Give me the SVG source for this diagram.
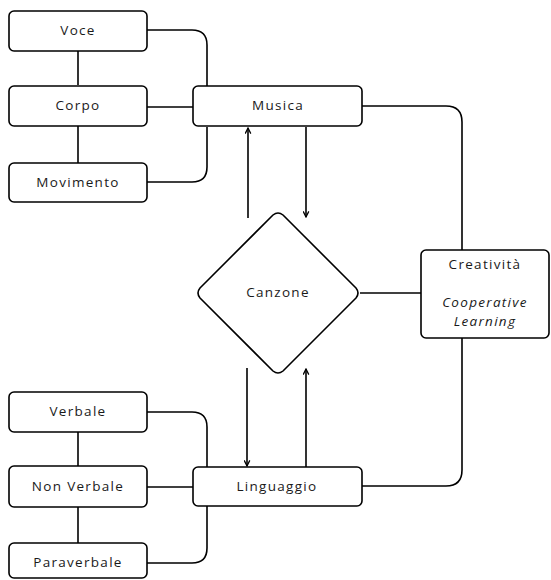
<svg xmlns="http://www.w3.org/2000/svg" width="551" height="580" viewBox="0 0 551 580">
<style>
.box{fill:#fff;stroke:#000;stroke-width:1.6}
.ln{fill:none;stroke:#000;stroke-width:1.6}
.t{font-family:"Open Sans","Liberation Sans",sans-serif;font-size:13.5px;letter-spacing:1.3px;fill:#1a1a1a;text-anchor:middle}
.i{font-style:italic}
</style>
<defs>
<marker id="ah" viewBox="0 0 10 10" refX="9" refY="5" markerWidth="7" markerHeight="7" orient="auto-start-reverse" markerUnits="userSpaceOnUse">
<path d="M1,1 L9,5 L1,9" fill="none" stroke="#000" stroke-width="1.8"/>
</marker>
</defs>
<rect width="551" height="580" fill="#fff"/>
<g id="connectors">
<path class="ln" d="M147,30 H192 Q207,30 207,45 V86"/>
<path class="ln" d="M147,107 H193"/>
<path class="ln" d="M207,127 V167 Q207,182 192,182 H147"/>
<path class="ln" d="M78,51 V85"/>
<path class="ln" d="M78,126 V163"/>
<path class="ln" d="M248,218 V128" marker-end="url(#ah)"/>
<path class="ln" d="M306,127 V217" marker-end="url(#ah)"/>
<path class="ln" d="M360,293 H421"/>
<path class="ln" d="M362,106 H446 Q462,106 462,122 V250"/>
<path class="ln" d="M462,338 V470 Q462,486 446,486 H362"/>
<path class="ln" d="M247,368 V466" marker-end="url(#ah)"/>
<path class="ln" d="M306,467 V369" marker-end="url(#ah)"/>
<path class="ln" d="M147,412 H192 Q207,412 207,427 V467"/>
<path class="ln" d="M147,487 H193"/>
<path class="ln" d="M207,506 V548 Q207,563 192,563 H147"/>
<path class="ln" d="M78,432 V466"/>
<path class="ln" d="M78,507 V543"/>
</g>
<g id="voce"><rect class="box" x="9" y="11" width="138" height="40" rx="5"/><text class="t" x="78" y="35">Voce</text></g>
<g id="corpo"><rect class="box" x="9" y="86" width="138" height="40" rx="5"/><text class="t" x="78" y="110">Corpo</text></g>
<g id="movimento"><rect class="box" x="9" y="163" width="138" height="39" rx="5"/><text class="t" x="78" y="187">Movimento</text></g>
<g id="musica"><rect class="box" x="193" y="86" width="169" height="40" rx="5"/><text class="t" x="278" y="110">Musica</text></g>
<g id="canzone"><path class="box" stroke-linejoin="round" d="M273,215 Q278,211 283,215 L356,288 Q360,293 356,298 L283,371 Q278,375 273,371 L200,298 Q196,293 200,288 Z"/><text class="t" x="278" y="297">Canzone</text></g>
<g id="creativita"><rect class="box" x="421" y="250" width="128" height="88" rx="5"/><text class="t" x="485" y="269">Creatività</text><text class="t i" x="485" y="307">Cooperative</text><text class="t i" x="485" y="326">Learning</text></g>
<g id="linguaggio"><rect class="box" x="193" y="467" width="169" height="39" rx="5"/><text class="t" x="277" y="491">Linguaggio</text></g>
<g id="verbale"><rect class="box" x="9" y="392" width="138" height="40" rx="5"/><text class="t" x="78" y="416">Verbale</text></g>
<g id="nonverbale"><rect class="box" x="9" y="466" width="138" height="41" rx="5"/><text class="t" x="78" y="491">Non Verbale</text></g>
<g id="paraverbale"><rect class="box" x="9" y="543" width="138" height="35" rx="5"/><text class="t" x="78" y="567">Paraverbale</text></g>
</svg>
